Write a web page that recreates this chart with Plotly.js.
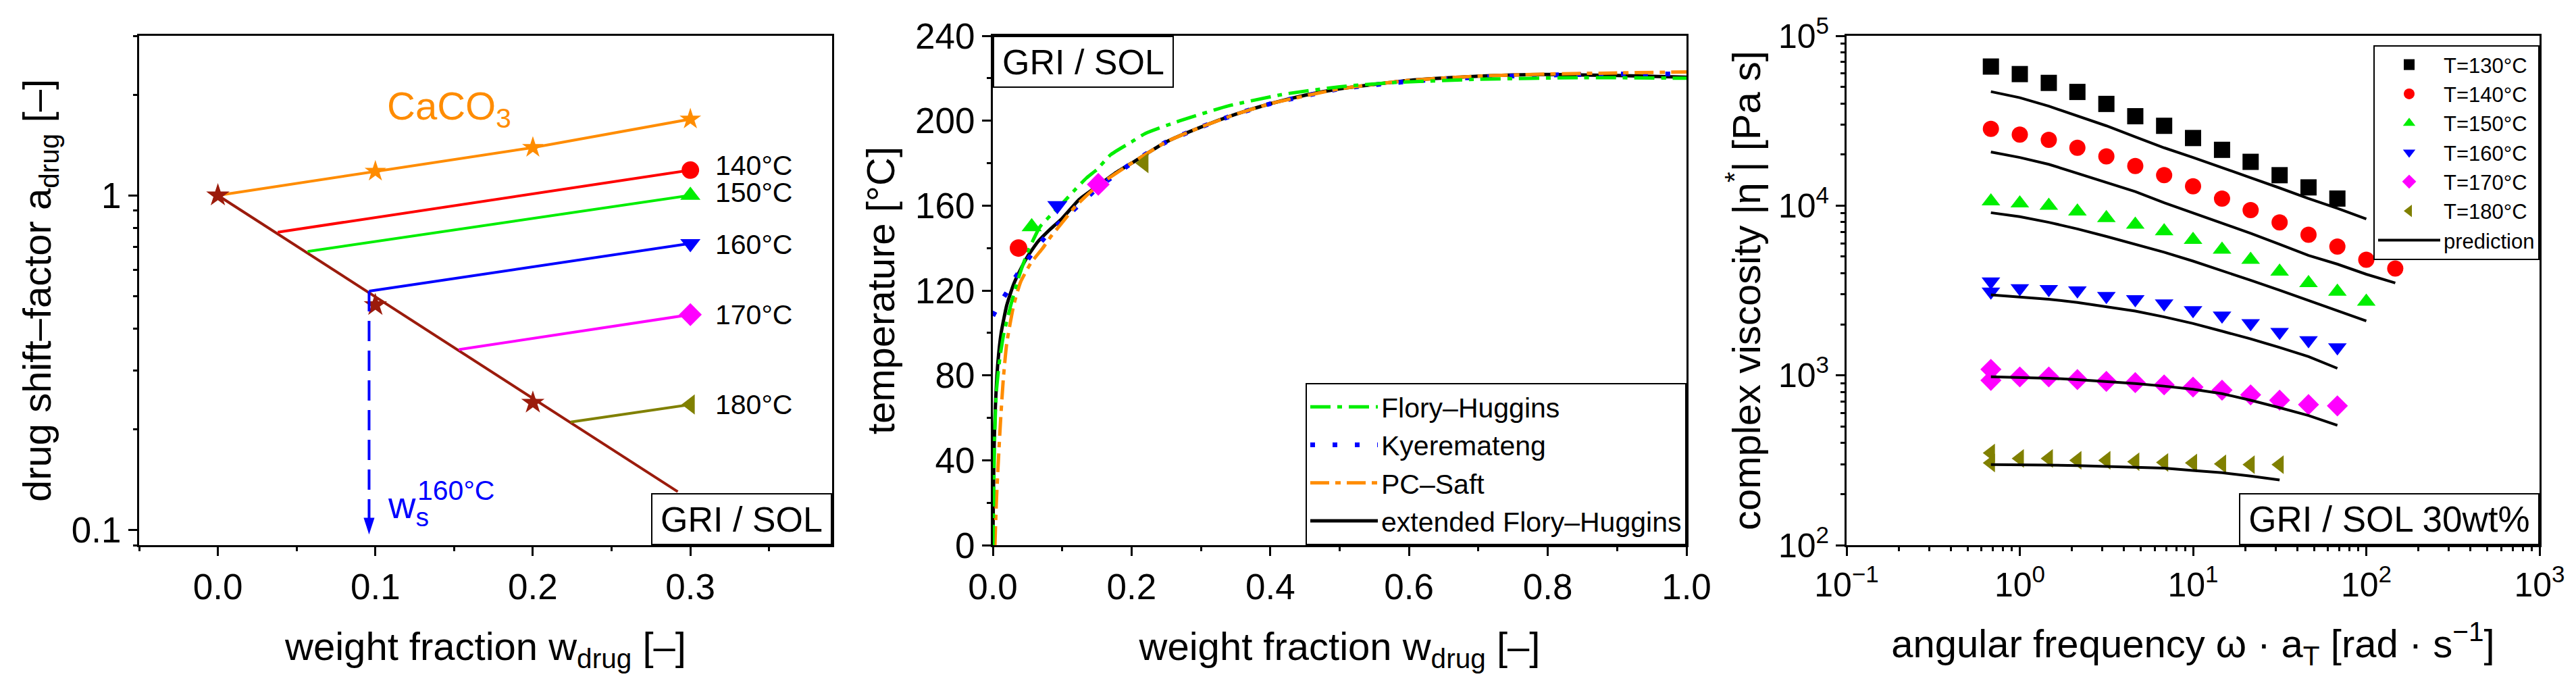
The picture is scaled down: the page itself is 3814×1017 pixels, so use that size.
<!DOCTYPE html>
<html>
<head>
<meta charset="utf-8">
<script src="https://cdn.plot.ly/plotly-3.0.1.min.js"></script>
<style>
  html, body { margin: 0; padding: 0; background: #fff; }
  #chart { width: 3814px; height: 1017px; }
</style>
</head>
<body>
<div id="chart"></div>
<script>
const W = 3814;
const H = 1017;
const FONT = "Liberation Sans, Arial, sans-serif";

// ---- panel 1: drug shift factor ----
const CACO3_W = [0, 0.1, 0.2, 0.3];
const CACO3_A = [1, 1.18, 1.39, 1.69];
const DRUG_LINE_W = [0, 0.292];
const DRUG_LINE_A = [1, 0.13];
const DRUG_STAR_W = [0, 0.1, 0.2];
const DRUG_STAR_A = [1, 0.47, 0.24];
const SHIFT_T = [140, 150, 160, 170, 180];
const SHIFT_START_W = [0.038, 0.057, 0.096, 0.153, 0.224];
const SHIFT_START_A = [0.776, 0.68, 0.517, 0.346, 0.21];
const SHIFT_END_W = 0.3;
const SHIFT_END_A = [1.19, 1.0, 0.718, 0.44, 0.237];
const SHIFT_LABEL_A = [1.226, 1.02, 0.713, 0.44, 0.237];
const WS_160 = 0.096;

// ---- panel 2: solubility curves ----
const SOL_W = [0.037, 0.056, 0.093, 0.152, 0.218];
const SOL_T = [140, 150, 160, 170, 180];
const FH_W = [0, 0.001, 0.0025, 0.005, 0.01, 0.016, 0.025, 0.035, 0.05, 0.068, 0.085, 0.1, 0.12, 0.135, 0.15, 0.17, 0.2, 0.22, 0.27, 0.34, 0.42, 0.5, 0.58, 0.7, 0.85, 1.0];
const FH_T = [0, 20, 50, 72, 88, 100, 112, 124, 138, 150, 156, 161, 168, 173, 177, 184, 190, 194, 200, 207, 212.5, 216, 218, 219.5, 220.3, 220];
const KY_W = [0, 0.01, 0.02, 0.03, 0.045, 0.06, 0.075, 0.09, 0.11, 0.13, 0.15, 0.2, 0.25, 0.3, 0.35, 0.4, 0.5, 0.6, 0.7, 0.8, 0.9, 1.0];
const KY_T = [108, 114, 119, 125, 132, 139, 145, 150, 156, 162, 168, 180, 190, 197, 203, 208, 215, 218.5, 220.5, 221.5, 222, 222];
const PCS_W = [0.003, 0.005, 0.008, 0.011, 0.015, 0.02, 0.03, 0.04, 0.055, 0.072, 0.085, 0.1, 0.12, 0.15, 0.2, 0.25, 0.3, 0.35, 0.4, 0.5, 0.6, 0.7, 0.8, 0.9, 1.0];
const PCS_T = [0, 20, 40, 58, 78, 95, 113, 124, 133, 140, 146, 152, 160, 169, 180, 190, 197, 203, 208, 215, 219, 221, 222, 222.5, 223];
const EFH_W = [0, 0.0007, 0.0015, 0.0025, 0.004, 0.007, 0.012, 0.02, 0.03, 0.04, 0.05, 0.065, 0.08, 0.1, 0.125, 0.15, 0.175, 0.2, 0.25, 0.3, 0.35, 0.4, 0.45, 0.5, 0.6, 0.7, 0.8, 0.9, 1.0];
const EFH_T = [0, 20, 40, 55, 68, 85, 100, 113, 123, 130, 136, 143, 148, 154, 163, 169, 175, 180, 190, 197, 203, 208, 212, 215, 219, 221, 221.8, 221.3, 220.5];

// ---- panel 3: complex viscosity ----
const FREQ = [0.681, 1, 1.47, 2.15, 3.16, 4.64, 6.81, 10, 14.7, 21.5, 31.6, 46.4, 68.1, 100, 147];
const ETA_130 = [65900, 59500, 52800, 46700, 39700, 33600, 29500, 25000, 21300, 18100, 15100, 12800, 11000];
const ETA_140 = [28300, 26200, 24400, 21900, 19500, 17100, 15100, 13000, 11000, 9400, 7960, 6740, 5740, 4800, 4260];
const ETA_150 = [10600, 10300, 9980, 9240, 8450, 7730, 7070, 6280, 5510, 4800, 4090, 3500, 3110, 2720];
const ETA_160 = [3570, 3260, 3220, 3160, 2930, 2810, 2650, 2420, 2250, 2030, 1800, 1610, 1460];
const ETA_170 = [1084, 979, 979, 944, 922, 906, 879, 853, 818, 767, 714, 673, 661];
const ETA_180 = [349, 324, 324, 316, 316, 310, 307, 305, 301, 298, 298];
const ETA_REPEAT_FIRST = { 160: 3110, 170: 934, 180: 305 };
const PRED_130 = [46900, 43200, 38500, 33600, 29500, 25400, 21900, 19200, 16800, 14600, 12700, 11000, 9630, 8350];
const PRED_140 = [20700, 19200, 17500, 15500, 13800, 12100, 10400, 9070, 7870, 6860, 5910, 5090, 4520, 3940, 3500];
const PRED_150 = [9080, 8600, 7970, 7290, 6580, 5910, 5310, 4710, 4140, 3630, 3170, 2760, 2420, 2090];
const PRED_160 = [2980, 2890, 2810, 2690, 2540, 2390, 2210, 2020, 1820, 1640, 1460, 1290, 1100];
const PRED_170 = [980, 973, 962, 944, 922, 895, 864, 828, 780, 714, 645, 580, 508];
const PRED_180 = [298, 298, 296, 294, 290, 287, 284, 275, 267, 255, 242];

const T_COLORS = { 130: "#000000", 140: "#ff0000", 150: "#00ee00", 160: "#0000ff", 170: "#ff00ff", 180: "#808000" };
const T_SYMBOLS = { 130: "square", 140: "circle", 150: "triangle-up", 160: "triangle-down", 170: "diamond", 180: "triangle-left" };
const BROWN = "#9b1b0c";
const ORANGE = "#ff8c00";

// pixel helpers for the panel frames
const px = v => v / W;
const py = v => 1 - v / H;
const PLOT_TOP = py(53);
const PLOT_BOTTOM = py(807);
const DOM1 = [px(206), px(1232)];
const DOM2 = [px(1470), px(2497)];
const DOM3 = [px(2734), px(3760)];

function decadeMinors(fromExp, toExp) {
  const out = [];
  for (let e = fromExp; e < toExp; e++) {
    for (let m = 2; m <= 9; m++) out.push(m * Math.pow(10, e));
  }
  return out;
}

function minorTicks(vals) {
  return { ticks: "outside", ticklen: 6, tickwidth: 3, tickcolor: "#000", showgrid: false, tickvals: vals };
}

function baseAxis(extra) {
  return Object.assign({
    showline: true,
    linewidth: 3,
    linecolor: "#000",
    mirror: true,
    ticks: "outside",
    ticklen: 13,
    tickwidth: 3,
    tickcolor: "#000",
    showgrid: false,
    zeroline: false,
    tickfont: { family: FONT, size: 53, color: "#000" }
  }, extra);
}

const traces = [];

// panel 1
traces.push({
  x: DRUG_LINE_W, y: DRUG_LINE_A, xaxis: "x", yaxis: "y", mode: "lines",
  line: { color: BROWN, width: 4 }, showlegend: false
});
traces.push({
  x: CACO3_W, y: CACO3_A, xaxis: "x", yaxis: "y", mode: "lines+markers",
  line: { color: ORANGE, width: 4 },
  marker: { symbol: "star", size: 24, color: ORANGE }, showlegend: false
});
SHIFT_T.forEach((t, i) => {
  traces.push({
    x: [SHIFT_START_W[i], SHIFT_END_W], y: [SHIFT_START_A[i], SHIFT_END_A[i]],
    xaxis: "x", yaxis: "y", mode: "lines",
    line: { color: T_COLORS[t], width: 4 }, showlegend: false
  });
  traces.push({
    x: [SHIFT_END_W], y: [SHIFT_END_A[i]], xaxis: "x", yaxis: "y", mode: "markers",
    marker: { symbol: T_SYMBOLS[t], size: 26, color: T_COLORS[t] }, showlegend: false
  });
});
traces.push({
  x: DRUG_STAR_W, y: DRUG_STAR_A, xaxis: "x", yaxis: "y", mode: "markers",
  marker: { symbol: "star", size: 26, color: BROWN }, showlegend: false
});
traces.push({
  x: [WS_160, WS_160], y: [SHIFT_START_A[2], 0.105], xaxis: "x", yaxis: "y", mode: "lines",
  line: { color: "#0000ff", width: 4, dash: "30px,14px" }, showlegend: false
});
traces.push({
  x: [WS_160], y: [0.0968], xaxis: "x", yaxis: "y", mode: "markers",
  marker: { symbol: "arrow", angle: 180, size: 26, color: "#0000ff" }, showlegend: false
});

// panel 2
traces.push({
  x: EFH_W, y: EFH_T, xaxis: "x2", yaxis: "y2", mode: "lines", name: "extended Flory\u2013Huggins",
  line: { color: "#000", width: 5, shape: "spline", smoothing: 0.5 }, legend: "legend", legendrank: 4
});
traces.push({
  x: KY_W, y: KY_T, xaxis: "x2", yaxis: "y2", mode: "lines", name: "Kyeremateng",
  line: { color: "#0000ff", width: 7, dash: "7px,26px", shape: "spline", smoothing: 0.5 }, legend: "legend", legendrank: 2
});
traces.push({
  x: PCS_W, y: PCS_T, xaxis: "x2", yaxis: "y2", mode: "lines", name: "PC\u2013Saft",
  line: { color: ORANGE, width: 5, dash: "28px,9px,8px,9px", shape: "spline", smoothing: 0.5 }, legend: "legend", legendrank: 3
});
traces.push({
  x: FH_W, y: FH_T, xaxis: "x2", yaxis: "y2", mode: "lines", name: "Flory\u2013Huggins",
  line: { color: "#00ee00", width: 5, dash: "30px,10px,7px,10px", shape: "spline", smoothing: 0.5 }, legend: "legend", legendrank: 1
});
SOL_T.forEach((t, i) => {
  traces.push({
    x: [SOL_W[i]], y: [SOL_T[i]], xaxis: "x2", yaxis: "y2", mode: "markers",
    marker: { symbol: T_SYMBOLS[t], size: 26, color: T_COLORS[t] }, showlegend: false
  });
});

// panel 3
const ETA = { 130: ETA_130, 140: ETA_140, 150: ETA_150, 160: ETA_160, 170: ETA_170, 180: ETA_180 };
const PRED = { 130: PRED_130, 140: PRED_140, 150: PRED_150, 160: PRED_160, 170: PRED_170, 180: PRED_180 };
const PRED_X = [];
const PRED_Y = [];
[130, 140, 150, 160, 170, 180].forEach(t => {
  PRED[t].forEach((v, i) => { PRED_X.push(FREQ[i]); PRED_Y.push(v); });
  PRED_X.push(null); PRED_Y.push(null);
});
[130, 140, 150, 160, 170, 180].forEach(t => {
  const xs = FREQ.slice(0, ETA[t].length);
  const ys = ETA[t].slice();
  if (ETA_REPEAT_FIRST[t]) { xs.unshift(FREQ[0]); ys.unshift(ETA_REPEAT_FIRST[t]); }
  traces.push({
    x: xs, y: ys, xaxis: "x3", yaxis: "y3", mode: "markers", name: "T=" + t + "\u00b0C",
    marker: { symbol: T_SYMBOLS[t], size: 24, color: T_COLORS[t] }, legend: "legend2"
  });
});
traces.push({
  x: PRED_X, y: PRED_Y, xaxis: "x3", yaxis: "y3", mode: "lines", name: "prediction",
  connectgaps: false, line: { color: "#000", width: 4 }, legend: "legend2"
});

const titleFont = { family: FONT, size: 58, color: "#000" };

const layout = {
  width: W,
  height: H,
  margin: { l: 0, r: 0, t: 0, b: 0 },
  paper_bgcolor: "#fff",
  plot_bgcolor: "#fff",
  font: { family: FONT, size: 53, color: "#000" },
  xaxis: baseAxis({
    domain: DOM1, anchor: "y", range: [-0.05, 0.39],
    tickvals: [0, 0.1, 0.2, 0.3], ticktext: ["0.0", "0.1", "0.2", "0.3"],
    minor: minorTicks([-0.05, 0.05, 0.15, 0.25, 0.35]),
    title: { text: "weight fraction w<sub>drug</sub> [\u2013]", font: titleFont, standoff: 40 }
  }),
  yaxis: baseAxis({
    domain: [PLOT_BOTTOM, PLOT_TOP], anchor: "x", type: "log",
    range: [Math.log10(0.09), Math.log10(3)],
    tickvals: [0.1, 1], ticktext: ["0.1", "1"],
    minor: minorTicks([0.09, 0.2, 0.3, 0.4, 0.5, 0.6, 0.7, 0.8, 0.9, 2, 3]),
    title: { text: "drug shift\u2013factor a<sub>drug</sub> [\u2013]", font: titleFont, standoff: 12 }
  }),
  xaxis2: baseAxis({
    domain: DOM2, anchor: "y2", range: [0, 1],
    tickvals: [0, 0.2, 0.4, 0.6, 0.8, 1.0], ticktext: ["0.0", "0.2", "0.4", "0.6", "0.8", "1.0"],
    minor: minorTicks([0.1, 0.3, 0.5, 0.7, 0.9]),
    title: { text: "weight fraction w<sub>drug</sub> [\u2013]", font: titleFont, standoff: 40 }
  }),
  yaxis2: baseAxis({
    domain: [PLOT_BOTTOM, PLOT_TOP], anchor: "x2", range: [0, 240],
    tickvals: [0, 40, 80, 120, 160, 200, 240],
    minor: minorTicks([20, 60, 100, 140, 180, 220]),
    title: { text: "temperature [\u00b0C]", font: titleFont, standoff: 12 }
  }),
  xaxis3: baseAxis({
    domain: DOM3, anchor: "y3", type: "log", range: [-1, 3],
    tickvals: [0.1, 1, 10, 100, 1000],
    ticktext: ["10<sup>\u22121</sup>", "10<sup>0</sup>", "10<sup>1</sup>", "10<sup>2</sup>", "10<sup>3</sup>"],
    minor: minorTicks(decadeMinors(-1, 3)),
    tickfont: { family: FONT, size: 50, color: "#000" },
    title: { text: "angular frequency \u03c9 \u00b7 a<sub>T</sub> [rad \u00b7 s<sup>\u22121</sup>]", font: titleFont, standoff: 40 }
  }),
  yaxis3: baseAxis({
    domain: [PLOT_BOTTOM, PLOT_TOP], anchor: "x3", type: "log", range: [2, 5],
    tickvals: [100, 1000, 10000, 100000],
    ticktext: ["10<sup>2</sup>", "10<sup>3</sup>", "10<sup>4</sup>", "10<sup>5</sup>"],
    minor: minorTicks(decadeMinors(2, 5)),
    tickfont: { family: FONT, size: 50, color: "#000" },
    title: { text: "complex viscosity |\u03b7<sup>*</sup>| [Pa s]", font: titleFont, standoff: 8 }
  }),
  legend: {
    x: DOM2[1], xanchor: "right", y: PLOT_BOTTOM, yanchor: "bottom",
    bgcolor: "#fff", bordercolor: "#000", borderwidth: 2,
    font: { family: FONT, size: 41, color: "#000" },
    itemwidth: 100, traceorder: "normal"
  },
  legend2: {
    x: DOM3[1], xanchor: "right", y: py(385), yanchor: "bottom",
    bgcolor: "#fff", bordercolor: "#000", borderwidth: 2,
    font: { family: FONT, size: 31, color: "#000" },
    itemwidth: 92, traceorder: "normal"
  },
  annotations: []
};

const boxStyle = { bgcolor: "#fff", bordercolor: "#000", borderwidth: 2, borderpad: 0, showarrow: false };
layout.annotations.push(Object.assign({
  xref: "paper", yref: "paper", x: DOM1[1], xanchor: "right", y: PLOT_BOTTOM, yanchor: "bottom",
  text: "GRI / SOL", font: { family: FONT, size: 52, color: "#000" }, width: 264, height: 73
}, boxStyle));
layout.annotations.push(Object.assign({
  xref: "paper", yref: "paper", x: DOM2[0], xanchor: "left", y: PLOT_TOP, yanchor: "top",
  text: "GRI / SOL", font: { family: FONT, size: 52, color: "#000" }, width: 264, height: 73
}, boxStyle));
layout.annotations.push(Object.assign({
  xref: "paper", yref: "paper", x: DOM3[1], xanchor: "right", y: PLOT_BOTTOM, yanchor: "bottom",
  text: "GRI / SOL 30wt%", font: { family: FONT, size: 53, color: "#000" }, width: 441, height: 73
}, boxStyle));

SHIFT_T.forEach((t, i) => {
  layout.annotations.push({
    xref: "x", yref: "y", x: 0.315, xanchor: "left", y: Math.log10(SHIFT_LABEL_A[i]), yanchor: "middle",
    text: t + "\u00b0C", showarrow: false, font: { family: FONT, size: 41, color: "#000" }
  });
});
layout.annotations.push({
  xref: "x", yref: "y", x: 0.147, y: 0.26, text: "CaCO<sub>3</sub>", showarrow: false,
  font: { family: FONT, size: 58, color: ORANGE }
});
layout.annotations.push({
  xref: "x", yref: "y", x: 0.107, xanchor: "left", y: -0.933, yanchor: "middle",
  text: "w<sub>s</sub>", showarrow: false, font: { family: FONT, size: 56, color: "#0000ff" }
});
layout.annotations.push({
  xref: "x", yref: "y", x: 0.151, y: -0.883, text: "160\u00b0C", showarrow: false,
  font: { family: FONT, size: 41, color: "#0000ff" }
});

Plotly.newPlot("chart", traces, layout, { displayModeBar: false, staticPlot: true });
</script>
</body>
</html>
